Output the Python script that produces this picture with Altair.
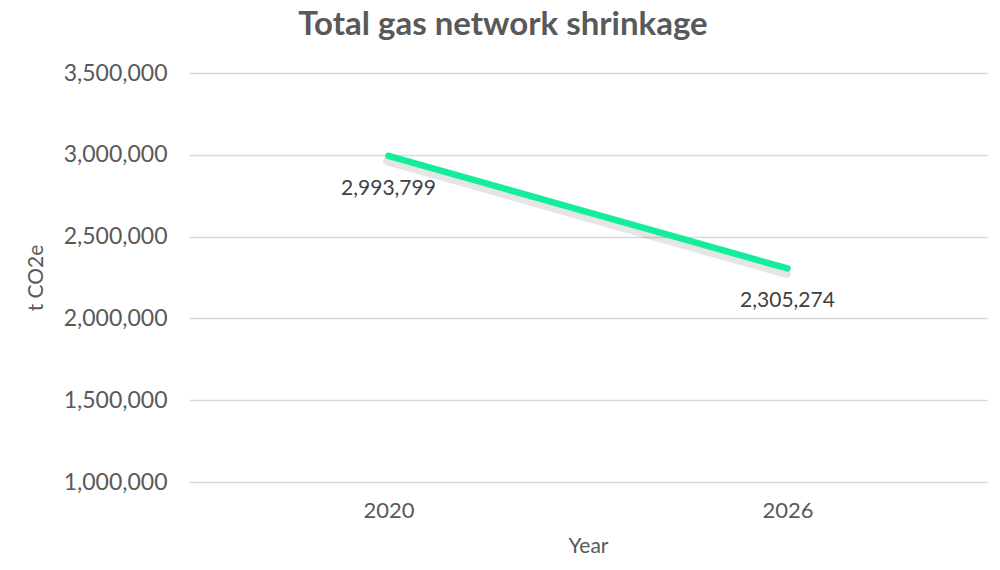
import altair as alt
import pandas as pd

years = ["2020", "2026"]
values = [2993799, 2305274]
labels = ["2,993,799", "2,305,274"]
y_ticks = [1000000, 1500000, 2000000, 2500000, 3000000, 3500000]

df = pd.DataFrame({"Year": years, "value": values, "label": labels})

FONT = "Lato"
GREY = "#595959"

x = alt.X("Year:N", title="Year", sort=years,
          scale=alt.Scale(padding=0.5),
          axis=alt.Axis(labelAngle=0, ticks=False, domain=False, grid=False,
                        labelPadding=18, labelFontSize=22, labelColor=GREY,
                        labelFont=FONT, titleFont=FONT, titleFontSize=21,
                        titleColor=GREY, titleFontWeight="normal", titlePadding=14))
y = alt.Y("value:Q", title="t CO2e",
          scale=alt.Scale(domain=[1000000, 3500000], nice=False, zero=False),
          axis=alt.Axis(values=y_ticks,
                        labelExpr="format(datum.value, ',')",
                        ticks=False, domain=False, gridColor="#d9d9d9",
                        gridWidth=1.5, labelPadding=22, labelFontSize=23,
                        labelColor=GREY, labelFont=FONT, titleFont=FONT,
                        titleFontSize=21, titleColor=GREY, titleFontWeight="normal",
                        titleX=-143, titleY=204.5))

base = alt.Chart(df)

shadow = base.mark_line(color="#000000", opacity=0.1, strokeWidth=9, strokeCap="round").encode(
    x=x, y=y, xOffset=alt.value(-1), yOffset=alt.value(5))
line = base.mark_line(color="#14EE9C", strokeWidth=6.5, strokeCap="round").encode(x=x, y=y)
text = base.mark_text(dy=33, fontSize=21, font=FONT, color="#404040").encode(
    x=x, y=y, text="label:N")

chart = (shadow + line + text).properties(
    width=798, height=409,
    title=alt.TitleParams("Total gas network shrinkage", font=FONT, fontSize=33,
                          fontWeight="bold", color=GREY, anchor="middle", dx=-85, offset=20),
    autosize=alt.AutoSizeParams(type="none"),
    padding={"left": 181, "top": 65, "right": 5, "bottom": 80},
).configure_view(stroke=None)

chart.save("out.html", embed_options={"renderer": "svg", "actions": False})
